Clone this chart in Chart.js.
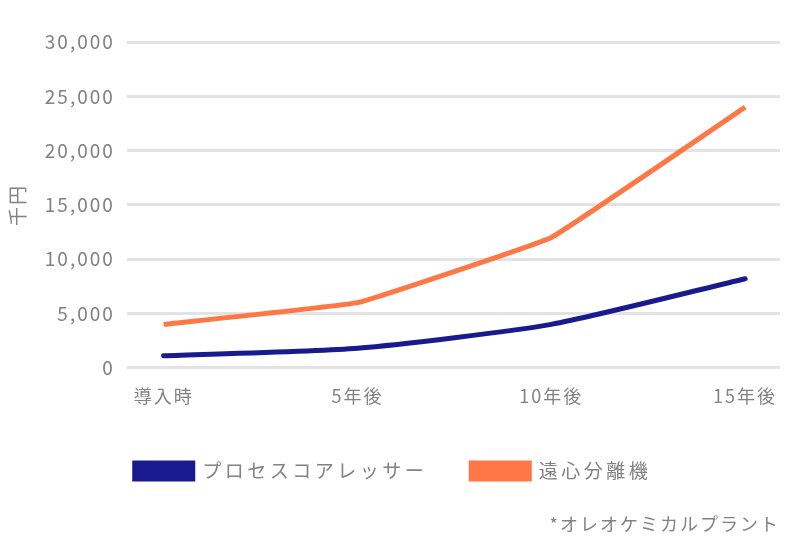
<!DOCTYPE html>
<html>
<head>
<meta charset="utf-8">
<script src="https://cdn.jsdelivr.net/npm/chart.js@4.4.1/dist/chart.umd.min.js"></script>
<style>
  html, body { margin: 0; padding: 0; background: #fff; }
  #wrap { width: 801px; height: 554px; }
</style>
</head>
<body>
<div id="wrap"><canvas id="line1"></canvas></div>
<script>
var labels = ["導入時", "5年後", "10年後", "15年後"];
var coalescer = [1100, 1800, 4000, 8200];   // プロセスコアレッサー
var centrifuge = [4000, 6000, 12000, 24000]; // 遠心分離機
var yTicks = [0, 5000, 10000, 15000, 20000, 25000, 30000];

var FONT = "'Noto Sans CJK JP', 'Noto Sans', sans-serif";
var GREY = "#828282";

function toPoints(arr) {
  return arr.map(function (v, i) { return { x: i, y: v }; });
}

// canvas letter spacing (the chart text is a bit spread out)
function withSpacing(fn, px) {
  return function () {
    var c = this.ctx;
    var old = c.letterSpacing;
    c.letterSpacing = px;
    var r = fn.apply(this, arguments);
    c.letterSpacing = old;
    return r;
  };
}

var spacing = {
  id: "spacing",
  afterInit: function (chart) {
    var lg = chart.legend;
    if (lg) {
      lg.fit = withSpacing(lg.fit, "3.5px");
      lg.draw = withSpacing(lg.draw, "3.5px");
    }
  },
  beforeLayout: function (chart) { chart.ctx.letterSpacing = "2px"; },
  beforeDraw: function (chart) { chart.ctx.letterSpacing = "2px"; }
};

var ctx = document.getElementById("line1");

new Chart(ctx, {
  type: "line",
  data: {
    datasets: [
      {
        label: "プロセスコアレッサー",
        data: toPoints(coalescer),
        borderColor: "#1a1a8f",
        backgroundColor: "#1a1a8f",
        borderWidth: 5,
        borderCapStyle: "round",
        tension: 0.2,
        pointRadius: 0
      },
      {
        label: "遠心分離機",
        data: toPoints(centrifuge),
        borderColor: "#ff7744",
        backgroundColor: "#ff7744",
        borderWidth: 5,
        borderCapStyle: "butt",
        tension: 0.07,
        pointRadius: 0
      }
    ]
  },
  options: {
    responsive: true,
    maintainAspectRatio: false,
    animation: false,
    layout: { padding: { left: 6, right: 21, top: 42, bottom: 19 } },
    scales: {
      x: {
        type: "linear",
        min: -0.19,
        max: 3.18,
        afterBuildTicks: function (scale) {
          scale.ticks = labels.map(function (l, i) { return { value: i }; });
        },
        ticks: {
          color: GREY,
          font: { family: FONT, size: 18 },
          padding: 10,
          maxRotation: 0,
          callback: function (value) { return labels[value]; }
        },
        grid: { display: false },
        border: { display: false }
      },
      y: {
        min: 0,
        max: 30000,
        afterBuildTicks: function (scale) {
          scale.ticks = yTicks.map(function (v) { return { value: v }; });
        },
        ticks: {
          color: GREY,
          font: { family: FONT, size: 19 },
          padding: 12,
          callback: function (value) { return value.toLocaleString("en-US"); }
        },
        title: {
          display: true,
          text: "千円",
          color: GREY,
          font: { family: FONT, size: 19 },
          padding: { top: 0, bottom: 4 }
        },
        grid: { color: "#e3e3e3", lineWidth: 3, drawTicks: false },
        border: { display: false }
      }
    },
    plugins: {
      legend: {
        position: "bottom",
        labels: {
          color: GREY,
          font: { family: FONT, size: 19 },
          boxWidth: 58,
          boxHeight: 16,
          padding: 44
        }
      },
      subtitle: {
        display: true,
        position: "bottom",
        align: "end",
        text: "*オレオケミカルプラント",
        color: GREY,
        font: { family: FONT, size: 18, weight: "normal" },
        padding: { top: 23, bottom: 0 }
      },
      tooltip: { enabled: false }
    }
  },
  plugins: [spacing]
});
</script>
</body>
</html>
